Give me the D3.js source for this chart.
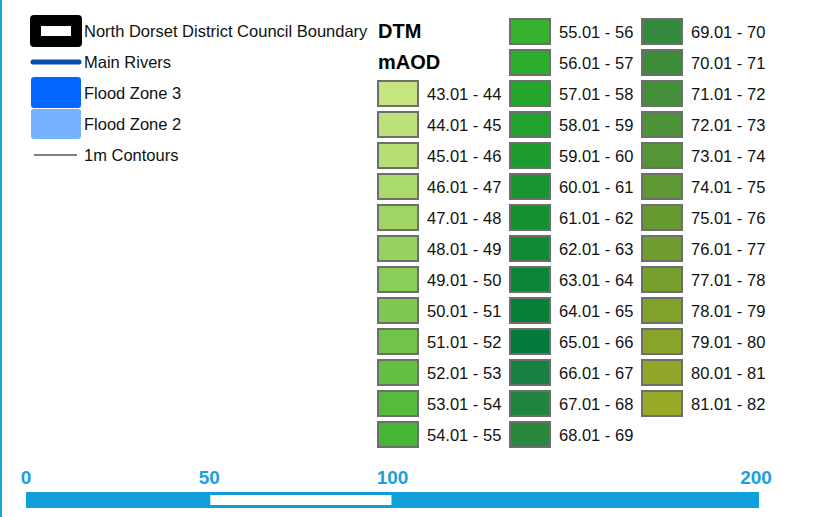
<!DOCTYPE html>
<html><head><meta charset="utf-8">
<script src="https://cdn.jsdelivr.net/npm/d3@7"></script>
<style>body{margin:0;background:#fff;}svg{display:block;font-family:"Liberation Sans",Arial,sans-serif;}</style>
</head><body><svg id="c" width="826" height="517"></svg>
<script>
const legendItems = ["North Dorset District Council Boundary","Main Rivers","Flood Zone 3","Flood Zone 2","1m Contours"];
const demTitle = ["DTM","mAOD"];
const demLower = [43,44,45,46,47,48,49,50,51,52,53,54,55,56,57,58,59,60,61,62,63,64,65,66,67,68,69,70,71,72,73,74,75,76,77,78,79,80,81];
const demColors = ["#c6e47f","#bee17a","#b5de73","#abda6c","#a1d665","#96d25e","#8bce57","#7fc950","#72c449","#64bf42","#56ba3b","#47b535",
"#38b130","#2aac2d","#24a72c","#20a22c","#1c9c2e","#18962f","#149031","#108a33","#0c8536","#087f39","#047b3b",
"#168140","#21843f","#2a873e","#33893c","#3c8c3b","#448f3a","#4d9238","#559535","#5e9833","#669a31","#6f9d2f","#779f2d","#80a22b","#89a42a","#91a729","#99a928"];
const scaleTicks = [0,50,100,200];

const svg = d3.select("#c");
svg.append("rect").attr("x",0).attr("y",0).attr("width",2).attr("height",517).attr("fill","#1ca3e0");

// left legend
const ly = d3.scalePoint().domain(legendItems).range([31,155]);
const g = svg.append("g");
g.append("rect").attr("x",30).attr("y",15).attr("width",52).attr("height",32).attr("rx",4).attr("fill","#000");
g.append("rect").attr("x",41).attr("y",26).attr("width",30).attr("height",10).attr("fill","#fff");
g.append("line").attr("x1",33).attr("x2",79).attr("y1",ly(legendItems[1])).attr("y2",ly(legendItems[1]))
  .attr("stroke","#0050b0").attr("stroke-width",5).attr("stroke-linecap","round");
g.append("rect").attr("x",31).attr("y",77).attr("width",50).attr("height",31).attr("rx",3).attr("fill","#0066ff");
g.append("rect").attr("x",31).attr("y",109).attr("width",50).attr("height",30).attr("rx",3).attr("fill","#75b2ff");
g.append("line").attr("x1",34).attr("x2",77).attr("y1",ly(legendItems[4])).attr("y2",ly(legendItems[4]))
  .attr("stroke","#808080").attr("stroke-width",2);
g.selectAll("text.li").data(legendItems).join("text").attr("class","li")
  .attr("x",84).attr("y",d=>ly(d)).attr("dy","0.35em").attr("font-size",16.5).attr("fill","#111").text(d=>d);

// DEM legend
const rowY = d3.scaleLinear().domain([0,1]).range([18,49]);
const colX = d3.scaleLinear().domain([0,1]).range([377,509]);
svg.selectAll("text.tt").data(demTitle).join("text").attr("class","tt")
  .attr("x",378).attr("y",(d,i)=>rowY(i)+13).attr("dy","0.35em").attr("font-size",20).attr("font-weight","bold").text(d=>d);
const cells = demLower.map((v,i)=>{
  const k = i+2;
  let col, row;
  if (k<14){col=0;row=k;} else if (k<28){col=1;row=k-14;} else {col=2;row=k-28;}
  return {v, color:demColors[i], col, row};
});
const cg = svg.selectAll("g.cell").data(cells).join("g").attr("class","cell")
  .attr("transform",d=>`translate(${colX(d.col)},${rowY(d.row)})`);
cg.append("rect").attr("x",1).attr("y",1).attr("width",40).attr("height",25)
  .attr("fill",d=>d.color).attr("stroke","#6e6e6e").attr("stroke-width",2);
cg.append("text").attr("x",50).attr("y",14).attr("dy","0.35em").attr("font-size",16.5).attr("fill","#111")
  .text(d=>`${(d.v+0.01).toFixed(2)} - ${d.v+1}`);

// scale bar
const sx = d3.scaleLinear().domain([0,200]).range([26,759]);
svg.append("rect").attr("x",sx(0)).attr("y",492).attr("width",sx(200)-sx(0)).attr("height",16).attr("rx",1).attr("fill","#119fda");
svg.append("rect").attr("x",sx(50)+1).attr("y",495).attr("width",sx(100)-sx(50)-2).attr("height",10).attr("fill","#fff");
svg.selectAll("text.sb").data(scaleTicks).join("text").attr("class","sb")
  .attr("x",d=>sx(d)+(d===200?-3:0)).attr("y",484).attr("text-anchor","middle")
  .attr("font-size",19).attr("font-weight","bold").attr("fill","#1ba1dc").text(d=>d);
</script></body></html>
